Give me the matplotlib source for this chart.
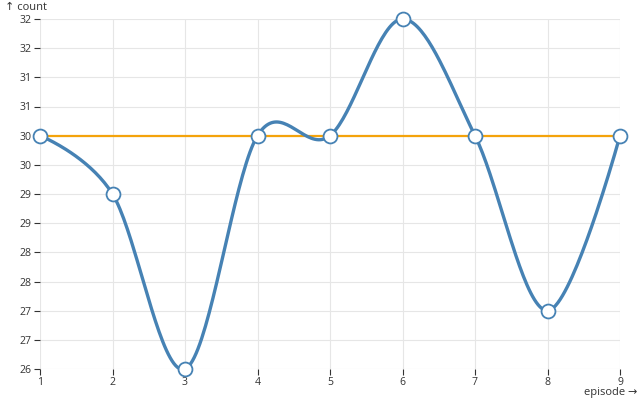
import matplotlib
matplotlib.use("Agg")
import matplotlib.pyplot as plt
import numpy as np
from matplotlib.ticker import FuncFormatter

episode = [1, 2, 3, 4, 5, 6, 7, 8, 9]
count = [30, 29, 26, 30, 30, 32, 30, 27, 30]
ref_value = 30
y_ticks = [26, 26.5, 27, 27.5, 28, 28.5, 29, 29.5, 30, 30.5, 31, 31.5, 32]


def cardinal(pts, n=40):
    # cardinal spline, tension 0 (d3.curveCardinal), as bezier segments
    pts = [np.asarray(p, float) for p in pts]
    out = []
    k = len(pts)
    for i in range(k - 1):
        p1, p2 = pts[i], pts[i + 1]
        c1 = p1 + (p2 - pts[i - 1]) / 6 if i > 0 else p1.copy()
        c2 = p2 + (p1 - pts[i + 2]) / 6 if i + 2 < k else p2.copy()
        t = np.linspace(0, 1, n)[:, None]
        seg = ((1 - t) ** 3) * p1 + 3 * ((1 - t) ** 2) * t * c1 + 3 * (1 - t) * t ** 2 * c2 + t ** 3 * p2
        out.append(seg)
    return np.vstack(out)


plt.rcParams['font.family'] = ['Open Sans', 'DejaVu Sans']
plt.rcParams['font.size'] = 7.6

fig = plt.figure(figsize=(6.4, 4.0), dpi=100)
ax = fig.add_axes([40 / 640, 31 / 400, 580 / 640, 350 / 400])

ax.set_xlim(1, 9)
ax.set_ylim(26, 32)
ax.set_xticks(episode)
ax.set_yticks(y_ticks)
ax.yaxis.set_major_formatter(FuncFormatter(lambda v, p: "%d" % int(np.floor(v + 0.5))))
ax.grid(True, color="#e6e6e6", linewidth=0.8)
ax.set_axisbelow(True)
for s in ax.spines.values():
    s.set_visible(False)
ax.tick_params(length=4, width=0.8, color="#333333", labelcolor="#333333", pad=2)

ax.axhline(ref_value, color="#f4a30b", linewidth=1.6, zorder=2)

# smooth curve computed in pixel space, then mapped back to data
fig.canvas.draw()
pix = ax.transData.transform(np.column_stack([episode, count]))
curve = ax.transData.inverted().transform(cardinal(list(pix)))
ax.plot(curve[:, 0], curve[:, 1], color="#4682b4", linewidth=2.4, zorder=3, clip_on=False)
ax.plot(episode, count, linestyle="none", marker="o", markersize=10,
        markerfacecolor="white", markeredgecolor="#4682b4", markeredgewidth=1.3,
        zorder=4, clip_on=False)

fig.text(5 / 640, 1 - 7 / 400, "↑ count", ha="left", va="center", color="#333333", fontsize=8)
fig.text(637 / 640, 1 - 393 / 400, "episode →", ha="right", va="center", color="#333333", fontsize=8)

fig.savefig("out.png", dpi=100)
